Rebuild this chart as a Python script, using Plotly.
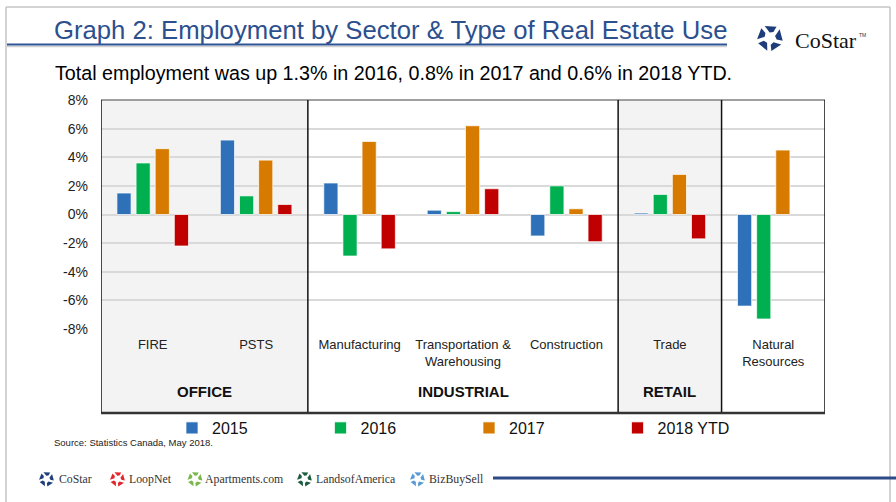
import math
import plotly.graph_objects as go

# ---------------- data ----------------
categories = ["FIRE", "PSTS", "Manufacturing", "Transportation &<br>Warehousing",
              "Construction", "Trade", "Natural<br>Resources"]
series_names = ["2015", "2016", "2017", "2018 YTD"]
values_2015 = [1.5, 5.2, 2.2, 0.3, -1.5, 0.1, -6.4]
values_2016 = [3.6, 1.3, -2.9, 0.2, 2.0, 1.4, -7.3]
values_2017 = [4.6, 3.8, 5.1, 6.2, 0.4, 2.8, 4.5]
values_2018 = [-2.2, 0.7, -2.4, 1.8, -1.9, -1.7, None]
series_colors = ["#2E71B8", "#00B050", "#D67B00", "#C00000"]
tick_vals = [-8, -6, -4, -2, 0, 2, 4, 6, 8]
tick_text = ["-8%", "-6%", "-4%", "-2%", "0%", "2%", "4%", "6%", "8%"]
groups = ["OFFICE", "INDUSTRIAL", "RETAIL"]
group_centers = [0.5, 3.0, 5.0]
shaded_spans = [(-0.5, 1.5), (4.5, 5.5)]
separators = [-0.5, 1.5, 4.5, 5.5, 6.5]

# ---------------- geometry helpers ----------------
FW, FH = 896, 502
L, T, R, B = 101, 100, 825, 329
W, H = R - L, B - T


def px(x):
    return (x - L) / W


def py(y):
    return (B - y) / H


fig = go.Figure()
all_values = [values_2015, values_2016, values_2017, values_2018]
for name, vals, col in zip(series_names, all_values, series_colors):
    fig.add_trace(go.Bar(
        x=categories, y=vals, name=name,
        marker=dict(color=col, line=dict(color="rgba(255,255,255,0.7)", width=1)),
    ))

shapes = []
# shaded regions
for x0, x1 in shaded_spans:
    shapes.append(dict(type="rect", xref="x", yref="paper", x0=x0, x1=x1,
                       y0=py(413), y1=1, fillcolor="#F3F3F3", line=dict(width=0),
                       layer="below"))
# top border
shapes.append(dict(type="line", xref="x", yref="paper", x0=-0.5, x1=6.5, y0=1, y1=1,
                   line=dict(color="#808080", width=1.5)))
# vertical separators
for sx in separators:
    shapes.append(dict(type="line", xref="x", yref="paper", x0=sx, x1=sx,
                       y0=py(413), y1=1, line=dict(color="#111111", width=1.5)))
# bottom border
shapes.append(dict(type="line", xref="x", yref="paper", x0=-0.5, x1=6.5,
                   y0=py(413), y1=py(413), line=dict(color="#333333", width=2.5)))

# slide frame
frame_col = "#C4C4C4"
shapes.append(dict(type="line", xref="paper", yref="paper", x0=px(6), x1=px(890),
                   y0=py(7), y1=py(7), line=dict(color=frame_col, width=1.5)))
shapes.append(dict(type="line", xref="paper", yref="paper", x0=px(6), x1=px(6),
                   y0=py(7), y1=py(502), line=dict(color=frame_col, width=1.5)))
shapes.append(dict(type="line", xref="paper", yref="paper", x0=px(890), x1=px(890),
                   y0=py(7), y1=py(502), line=dict(color=frame_col, width=1.5)))
# title underline + shadow
shapes.append(dict(type="line", xref="paper", yref="paper", x0=px(7), x1=px(727),
                   y0=py(46.5), y1=py(46.5), line=dict(color="#D0D0D0", width=1.5)))
shapes.append(dict(type="line", xref="paper", yref="paper", x0=px(7), x1=px(727),
                   y0=py(44.5), y1=py(44.5), line=dict(color="#2F5496", width=2)))
# footer line
shapes.append(dict(type="line", xref="paper", yref="paper", x0=px(493), x1=px(896),
                   y0=py(478), y1=py(478), line=dict(color="#2B4A86", width=3)))


def pinwheel(cx, cy, r, color):
    """Five-piece CoStar-style logo built from paths (pixel coords)."""
    out = []
    for k in range(5):
        a = math.radians(-90 + 72 * k)
        a0, a1 = a - math.radians(24), a + math.radians(30)
        r_in, r_out = r * 0.42, r
        pts = [
            (cx + r_in * math.cos(a0 + 0.35), cy + r_in * math.sin(a0 + 0.35)),
            (cx + r_out * math.cos(a0), cy + r_out * math.sin(a0)),
            (cx + r_out * math.cos(a1), cy + r_out * math.sin(a1)),
            (cx + r_in * 1.25 * math.cos(a1), cy + r_in * 1.25 * math.sin(a1)),
        ]
        path = "M " + " L ".join(f"{px(x):.5f},{py(y):.5f}" for x, y in pts) + " Z"
        out.append(dict(type="path", xref="paper", yref="paper", path=path,
                        fillcolor=color, line=dict(width=0)))
    return out


shapes += pinwheel(770, 38, 13, "#1F3D7A")
footer_logos = [
    (46.5, "CoStar", "#1F3D7A", 57),
    (117.5, "LoopNet", "#E3262B", 127),
    (195, "Apartments.com", "#7AB648", 203),
    (304.5, "LandsofAmerica", "#1D5C3F", 314),
    (417.5, "BizBuySell", "#5A9BD5", 427),
]
for cx, _, col, _ in footer_logos:
    shapes += pinwheel(cx, 479, 7.5, col)

annotations = []
# title, subtitle
annotations.append(dict(text="Graph 2: Employment by Sector & Type of Real Estate Use",
                        xref="paper", yref="paper", x=px(52), y=py(30), xanchor="left",
                        yanchor="middle", showarrow=False,
                        font=dict(family="Liberation Sans, Arial", size=25.7, color="#2C4F8E")))
annotations.append(dict(text="Total employment was up 1.3% in 2016, 0.8% in 2017 and 0.6% in 2018 YTD.",
                        xref="paper", yref="paper", x=px(53), y=py(73), xanchor="left",
                        yanchor="middle", showarrow=False,
                        font=dict(family="Liberation Sans, Arial", size=19.7, color="#000000")))
annotations.append(dict(text="CoStar", xref="paper", yref="paper",
                        x=px(793), y=py(40), xanchor="left", yanchor="middle", showarrow=False,
                        font=dict(family="Liberation Serif, Times New Roman", size=22, color="#111111")))
annotations.append(dict(text="TM", xref="paper", yref="paper",
                        x=px(857), y=py(35), xanchor="left", yanchor="middle", showarrow=False,
                        font=dict(family="Liberation Sans, Arial", size=5, color="#333333")))
# group labels
for g, gx in zip(groups, group_centers):
    annotations.append(dict(text=f"<b>{g}</b>", xref="x", yref="paper", x=gx, y=py(391),
                            xanchor="center", yanchor="middle", showarrow=False,
                            font=dict(family="Liberation Sans, Arial", size=15, color="#111111")))
# source
annotations.append(dict(text="Source: Statistics Canada, May 2018.", xref="paper", yref="paper",
                        x=px(52), y=py(442), xanchor="left", yanchor="middle", showarrow=False,
                        font=dict(family="Liberation Sans, Arial", size=9.5, color="#222222")))
# footer brand names
for _, txt, _, tx in footer_logos:
    annotations.append(dict(text=txt, xref="paper", yref="paper", x=px(tx), y=py(479),
                            xanchor="left", yanchor="middle", showarrow=False,
                            font=dict(family="Liberation Serif, Times New Roman", size=11.8,
                                      color="#333333")))

fig.update_layout(
    width=FW, height=FH,
    margin=dict(l=L, r=FW - R, t=T, b=FH - B, pad=0),
    paper_bgcolor="white", plot_bgcolor="rgba(0,0,0,0)",
    barmode="group", bargap=0.26, bargroupgap=0.26,
    font=dict(family="Liberation Sans, Arial", color="#111111"),
    shapes=shapes, annotations=annotations,
    showlegend=True,
    legend=dict(orientation="h", x=px(172), y=py(411), xanchor="left", yanchor="top",
                entrywidth=103.5, entrywidthmode="pixels", traceorder="normal",
                font=dict(size=16, color="#111111"), bgcolor="rgba(0,0,0,0)",
                itemclick=False, itemdoubleclick=False),
)
fig.update_xaxes(showgrid=False, zeroline=False, showline=False, ticks="",
                 tickfont=dict(size=13, color="#222222"), ticklabelstandoff=6,
                 range=[-0.5, 6.5], fixedrange=True)
fig.update_yaxes(range=[-8, 8], tickvals=tick_vals, ticktext=tick_text,
                 showgrid=True, gridcolor="#D9D9D9", gridwidth=2,
                 zeroline=True, zerolinecolor="#D9D9D9", zerolinewidth=2,
                 showline=False, ticks="", ticklabelstandoff=12,
                 tickfont=dict(size=14, color="#222222"), fixedrange=True)

fig.write_html("out.html", config={"displayModeBar": False},
               post_script="document.body.style.margin='0';"
                           "document.documentElement.style.overflow='hidden';")
